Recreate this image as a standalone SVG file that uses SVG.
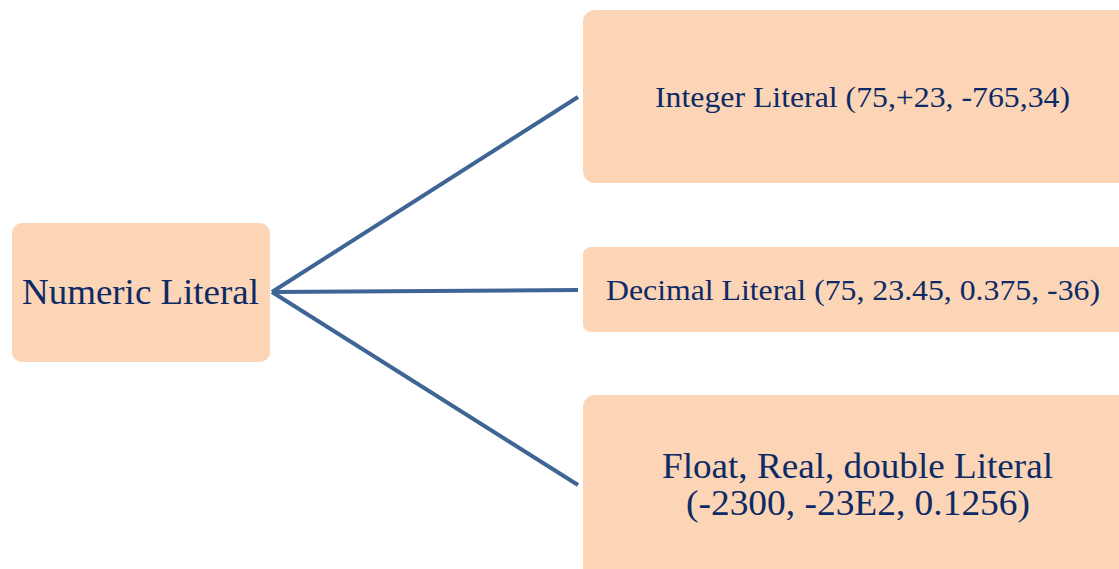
<svg xmlns="http://www.w3.org/2000/svg" width="1119" height="569" viewBox="0 0 1119 569">
<style>
.box{fill:#fbd5b5;}
.t{font-family:"Liberation Serif","Times New Roman",serif;fill:#0e2a66;text-anchor:middle;}
.c{stroke:#3f6595;stroke-width:4;fill:none;stroke-linecap:butt;}
</style>
<rect width="1119" height="569" fill="#ffffff"/>
<g id="connectors">
<line class="c" x1="272" y1="292" x2="578" y2="97"/>
<line class="c" x1="272" y1="292" x2="578" y2="290"/>
<line class="c" x1="272" y1="292" x2="578" y2="485"/>
</g>
<g id="numeric">
<rect class="box" x="12" y="223" width="258" height="139" rx="10"/>
<text class="t" x="140.5" y="304" font-size="36" textLength="237" lengthAdjust="spacingAndGlyphs">Numeric Literal</text>
</g>
<g id="integer">
<rect class="box" x="583" y="10" width="548" height="173" rx="12"/>
<text class="t" x="862.5" y="107" font-size="30" textLength="415" lengthAdjust="spacingAndGlyphs">Integer Literal (75,+23, -765,34)</text>
</g>
<g id="decimal">
<rect class="box" x="583" y="247" width="548" height="85" rx="8"/>
<text class="t" x="853" y="300" font-size="30" textLength="494" lengthAdjust="spacingAndGlyphs">Decimal Literal (75, 23.45, 0.375, -36)</text>
</g>
<g id="float">
<rect class="box" x="583" y="395" width="548" height="190" rx="12"/>
<text class="t" x="857.5" y="478" font-size="35" textLength="391" lengthAdjust="spacingAndGlyphs">Float, Real, double Literal</text>
<text class="t" x="858" y="515" font-size="35" textLength="344" lengthAdjust="spacingAndGlyphs">(-2300, -23E2, 0.1256)</text>
</g>
</svg>
